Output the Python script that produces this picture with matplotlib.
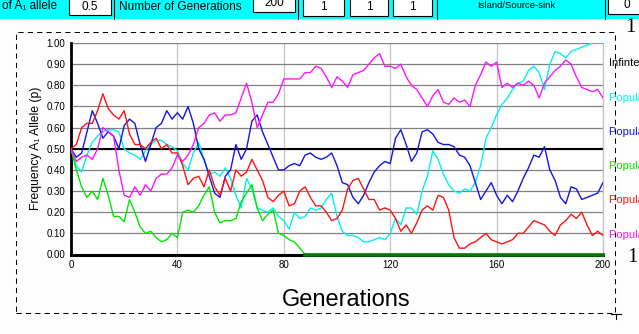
import matplotlib.pyplot as plt
import numpy as np
from matplotlib.patches import Rectangle
from matplotlib.lines import Line2D

# generations sampled every 2 steps
generations = np.arange(0, 201, 2)

pop1_cyan = [0.50, 0.42, 0.39, 0.47, 0.53, 0.56, 0.58, 0.59, 0.59, 0.58, 0.50, 0.48, 0.47, 0.45, 0.49, 0.52, 0.54, 0.54, 0.52, 0.51, 0.49,
             0.43, 0.40, 0.48, 0.53, 0.45, 0.38, 0.39, 0.37, 0.41, 0.36, 0.28, 0.22, 0.36, 0.31, 0.22, 0.21, 0.20, 0.22, 0.18, 0.16,
             0.12, 0.20, 0.17, 0.18, 0.22, 0.21, 0.22, 0.26, 0.29, 0.18, 0.11, 0.09, 0.09, 0.08, 0.06, 0.06, 0.07, 0.08, 0.07, 0.10,
             0.17, 0.14, 0.22, 0.22, 0.19, 0.30, 0.37, 0.49, 0.45, 0.38, 0.33, 0.30, 0.29, 0.31, 0.30, 0.34, 0.42, 0.55, 0.60, 0.66,
             0.71, 0.74, 0.78, 0.81, 0.82, 0.87, 0.89, 0.86, 0.78, 0.90, 0.96, 0.95, 0.93, 0.96, 0.97, 0.98, 0.99, 1.00, 1.00, 1.00]

pop2_blue = [0.50, 0.46, 0.48, 0.58, 0.68, 0.62, 0.55, 0.58, 0.56, 0.50, 0.61, 0.64, 0.62, 0.52, 0.44, 0.52, 0.60, 0.62, 0.68, 0.64, 0.67,
             0.64, 0.70, 0.62, 0.50, 0.45, 0.37, 0.29, 0.27, 0.37, 0.40, 0.52, 0.45, 0.50, 0.63, 0.66, 0.58, 0.52, 0.46, 0.40, 0.40,
             0.42, 0.43, 0.42, 0.47, 0.48, 0.46, 0.45, 0.46, 0.48, 0.42, 0.34, 0.33, 0.27, 0.24, 0.28, 0.34, 0.39, 0.42, 0.44, 0.43,
             0.55, 0.59, 0.52, 0.44, 0.48, 0.58, 0.59, 0.57, 0.53, 0.52, 0.52, 0.51, 0.47, 0.46, 0.42, 0.34, 0.26, 0.30, 0.34, 0.28,
             0.24, 0.28, 0.25, 0.30, 0.36, 0.41, 0.47, 0.46, 0.51, 0.40, 0.35, 0.27, 0.24, 0.32, 0.31, 0.26, 0.27, 0.28, 0.29, 0.34]

pop3_green = [0.50, 0.40, 0.32, 0.27, 0.30, 0.26, 0.36, 0.28, 0.18, 0.18, 0.155, 0.26, 0.20, 0.13, 0.10, 0.11, 0.08, 0.06, 0.07, 0.10, 0.08,
              0.20, 0.21, 0.20, 0.23, 0.28, 0.32, 0.20, 0.15, 0.16, 0.16, 0.17, 0.25, 0.29, 0.33, 0.22, 0.16, 0.19, 0.21, 0.10, 0.09,
              0.07, 0.06, 0.03, 0.0] + [0.0] * 56

pop4_red = [0.50, 0.52, 0.60, 0.62, 0.62, 0.68, 0.76, 0.69, 0.66, 0.64, 0.68, 0.57, 0.52, 0.52, 0.50, 0.53, 0.55, 0.50, 0.52, 0.48, 0.48,
            0.42, 0.33, 0.36, 0.37, 0.32, 0.40, 0.32, 0.28, 0.36, 0.30, 0.40, 0.37, 0.39, 0.45, 0.40, 0.35, 0.27, 0.25, 0.28, 0.30,
            0.23, 0.24, 0.30, 0.32, 0.27, 0.23, 0.23, 0.20, 0.16, 0.17, 0.21, 0.31, 0.35, 0.36, 0.31, 0.26, 0.26, 0.21, 0.22, 0.21,
            0.17, 0.11, 0.14, 0.10, 0.15, 0.21, 0.23, 0.21, 0.28, 0.27, 0.21, 0.08, 0.03, 0.03, 0.05, 0.06, 0.08, 0.10, 0.07, 0.06,
            0.05, 0.06, 0.07, 0.10, 0.10, 0.13, 0.16, 0.15, 0.14, 0.11, 0.09, 0.14, 0.16, 0.19, 0.17, 0.20, 0.14, 0.09, 0.11, 0.09]

pop5_magenta = [0.50, 0.44, 0.46, 0.47, 0.45, 0.50, 0.60, 0.58, 0.56, 0.40, 0.28, 0.27, 0.32, 0.28, 0.33, 0.30, 0.36, 0.38, 0.38, 0.41, 0.47,
                0.44, 0.47, 0.52, 0.60, 0.62, 0.66, 0.67, 0.63, 0.66, 0.66, 0.67, 0.74, 0.81, 0.72, 0.60, 0.66, 0.72, 0.72, 0.76, 0.83,
                0.83, 0.83, 0.83, 0.86, 0.86, 0.89, 0.88, 0.84, 0.79, 0.84, 0.82, 0.79, 0.85, 0.86, 0.87, 0.90, 0.93, 0.95, 0.89, 0.89,
                0.88, 0.90, 0.84, 0.80, 0.78, 0.74, 0.70, 0.75, 0.78, 0.72, 0.71, 0.74, 0.72, 0.73, 0.70, 0.80, 0.85, 0.91, 0.89, 0.91,
                0.79, 0.81, 0.79, 0.81, 0.80, 0.82, 0.80, 0.74, 0.81, 0.84, 0.87, 0.89, 0.92, 0.90, 0.84, 0.79, 0.78, 0.77, 0.78, 0.74]

infinite_pop = [0.5] * len(generations)

series = [
    (pop1_cyan, '#00f0f0'),
    (pop2_blue, '#1414e6'),
    (pop3_green, '#00e600'),
    (pop4_red, '#ff1414'),
    (pop5_magenta, '#ff14ff'),
]
legend_labels = ['Infinte Population', 'Population 1', 'Population 2', 'Population 3', 'Population 4', 'Population 5']
legend_colors = ['black', '#00f0f0', '#1414e6', '#00e600', '#ff1414', '#ff14ff']
y_ticks = np.arange(0, 1.01, 0.1)
x_ticks = [0, 40, 80, 120, 160, 200]

plt.rcParams['font.family'] = ['Liberation Sans', 'DejaVu Sans']

W, H = 639, 334
fig = plt.figure(figsize=(W / 100, H / 100), dpi=100)
fig.patch.set_facecolor('#fdfdfd')


def fx(x):
    return x / W


def fy(y):
    return 1 - y / H


# control strip across the top
fig.add_artist(Rectangle((0, fy(19.3)), 1, 19.3 / H, transform=fig.transFigure,
                         facecolor='#00ffff', edgecolor='none'))
for x0, x1, y1, txt, ty in [(69, 111, 15.3, '0.5', 6.5), (253, 295, 12, '200', 2.5),
                            (303, 344, 16, '1', 6.7), (350, 388, 16, '1', 6.7),
                            (393, 432, 16, '1', 6.7), (608, 645, 14, '0', 4.5)]:
    fig.add_artist(Rectangle((fx(x0), fy(y1)), (x1 - x0) / W, y1 / H + 0.01,
                             transform=fig.transFigure, facecolor='white',
                             edgecolor='black', lw=0.8))
    fig.text(fx((x0 + x1) / 2), fy(ty), txt, ha='center', va='center', fontsize=8.5)
for xs in [114, 298, 437, 605]:
    fig.add_artist(Line2D([fx(xs), fx(xs)], [fy(19.3), 1], transform=fig.transFigure,
                          color='black', lw=0.8))
fig.text(fx(2), fy(6.5), 'of A\u2081 allele', ha='left', va='center', fontsize=8.5)
fig.text(fx(119), fy(6.5), 'Number of Generations', ha='left', va='center', fontsize=8.5)
fig.text(fx(516), fy(5), 'Island/Source-sink', ha='center', va='center', fontsize=6.8)

# dashed frame around the chart
fig.add_artist(Rectangle((fx(16), fy(313)), (615 - 16) / W, (313 - 32) / H,
                         transform=fig.transFigure, fill=False, edgecolor='black',
                         lw=0.75, ls=(0, (5, 4))))
fig.add_artist(Line2D([fx(611), fx(621)], [fy(313.5), fy(313.5)], transform=fig.transFigure, color='black', lw=0.8))
fig.add_artist(Line2D([fx(616), fx(616)], [fy(313.5), fy(319)], transform=fig.transFigure, color='black', lw=0.8))
fig.text(fx(630), fy(28), '1', family='Liberation Serif', fontsize=15, ha='center', va='center')
fig.text(fx(632), fy(258), '1', family='Liberation Serif', fontsize=15, ha='center', va='center')

ax = fig.add_axes([fx(71), fy(254.5), (603 - 71) / W, (254.5 - 43) / H])
ax.set_facecolor('white')
ax.set_xlim(0, 200)
ax.set_ylim(0, 1.0)
ax.set_xticks(x_ticks)
ax.set_yticks(y_ticks)
ax.set_yticklabels([f'{v:.2f}' for v in y_ticks])
ax.tick_params(length=0, labelsize=7, pad=4)
ax.grid(axis='y', color='#808080', lw=0.9)
ax.grid(axis='x', color='#c4c4c4', lw=0.9)
ax.set_axisbelow(True)
ax.spines['top'].set_visible(False)
ax.spines['right'].set_color('#c4c4c4')
ax.spines['right'].set_linewidth(0.9)
ax.spines['left'].set_linewidth(2.0)
ax.spines['bottom'].set_linewidth(2.2)

ax.plot(generations, infinite_pop, color='black', lw=1.5, zorder=2)
for values, color in series:
    ax.plot(generations, values, color=color, lw=1.0, zorder=3)

# fixed (lost) allele drawn along the axis
green = np.array(pop3_green)
fixed = np.where(green == 0, 0.0, np.nan)
ax.plot(generations, fixed, color='#067806', lw=2.6, zorder=5, clip_on=False)

fig.text(fx(36), fy(148), 'Frequency A\u2081 Allele (p)', rotation=90, ha='center', va='center', fontsize=8.7)
fig.text(fx(346), fy(300), 'Generations', ha='center', va='center', fontsize=17)

for i, (label, color) in enumerate(zip(legend_labels, legend_colors)):
    fig.text(fx(609), fy(63.5 + 34.2 * i), label, color=color, fontsize=8, ha='left', va='center')

fig.savefig('out.png', dpi=100, facecolor=fig.get_facecolor())
